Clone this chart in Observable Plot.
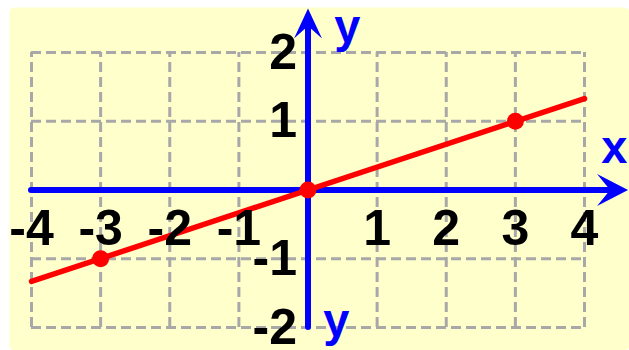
<!DOCTYPE html>
<html>
<head>
<meta charset="utf-8">
<script src="https://cdn.jsdelivr.net/npm/d3@7"></script>
<script src="https://cdn.jsdelivr.net/npm/@observablehq/plot@0.6"></script>
<style>
  html, body { margin: 0; padding: 0; background: #ffffff; }
  #chart svg { display: block; }
</style>
</head>
<body>
<div id="chart"></div>
<script>
// Grid / tick values
const xTicks = [-4, -3, -2, -1, 0, 1, 2, 3, 4];
const yTicks = [-2, -1, 0, 1, 2];
// Tick labels (0 omitted)
const xLabelValues = [-4, -3, -2, -1, 1, 2, 3, 4];
const xLabelTexts = ["-4", "-3", "-2", "-1", "1", "2", "3", "4"];
const yLabelValues = [-2, -1, 1, 2];
const yLabelTexts = ["-2", "-1", "1", "2"];
// Line y = x/3 endpoints
const lineX = [-4, 4];
const lineY = [-1.33, 1.33];
// Highlighted points
const pointX = [-3, 0, 3];
const pointY = [-1, 0, 1];
// Axis extents (arrow tips) and axis-name labels
const xAxisStart = -4, xAxisEnd = 4.45, xArrowTip = 4.63;
const yAxisStart = -2, yAxisEnd = 2.45, yArrowTip = 2.64;
const axisNames = ["x", "y", "y"];
const axisNameX = [4.43, 0.57, 0.41];
const axisNameY = [0.40, 2.16, -2.12];

const blue = "#0000ff";
const red = "#ff0000";
const gridColor = "#a8a8a8";
const font = "Liberation Sans, Arial, Helvetica, sans-serif";

const arrowHead = {
  draw(context, l, r) {
    context.moveTo(0, -l);
    context.lineTo(r, 0);
    context.lineTo(0, -l * 0.42);
    context.lineTo(-r, 0);
    context.closePath();
  }
};

const idx = (arr) => arr.map((_, i) => i);

const chart = Plot.plot({
  width: 629,
  height: 350,
  marginLeft: 31,
  marginRight: 45,
  marginTop: 52,
  marginBottom: 23,
  x: {domain: [-4, 4], axis: null},
  y: {domain: [-2, 2], axis: null},
  style: {background: "#ffffff", overflow: "visible"},
  marks: [
    Plot.frame({fill: "#ffffcc", stroke: "none", rx: 5,
      insetLeft: -22, insetTop: -45, insetRight: -45, insetBottom: -23}),
    Plot.ruleX(xTicks, {x: d => d, y1: -2, y2: 2, stroke: gridColor, strokeWidth: 3, strokeDasharray: "10,5"}),
    Plot.ruleY(yTicks, {y: d => d, x1: -4, x2: 4, stroke: gridColor, strokeWidth: 3, strokeDasharray: "10,5"}),
    Plot.ruleY([0], {x1: xAxisStart, x2: xAxisEnd, stroke: blue, strokeWidth: 6, strokeLinecap: "round"}),
    Plot.ruleX([0], {y1: yAxisStart, y2: yAxisEnd, stroke: blue, strokeWidth: 6, strokeLinecap: "round"}),
    Plot.vector([0], {x: xArrowTip, y: 0, rotate: 90, length: 31, r: 16, anchor: "end", shape: arrowHead, fill: blue, stroke: "none"}),
    Plot.vector([0], {x: 0, y: yArrowTip, rotate: 0, length: 30, r: 14, anchor: "end", shape: arrowHead, fill: blue, stroke: "none"}),
    Plot.line(idx(lineX), {x: i => lineX[i], y: i => lineY[i], stroke: red, strokeWidth: 5.5}),
    Plot.dot(idx(pointX), {x: i => pointX[i], y: i => pointY[i], r: 8.5, fill: red, stroke: "none"}),
    Plot.text(idx(xLabelValues), {x: i => xLabelValues[i], y: 0, text: i => xLabelTexts[i], dy: 55,
      lineAnchor: "bottom", textAnchor: "middle", fontSize: 50, fontWeight: "bold", fontFamily: font, fill: "#000"}),
    Plot.text(idx(yLabelValues), {x: 0, y: i => yLabelValues[i], text: i => yLabelTexts[i], dx: -11,
      lineAnchor: "middle", textAnchor: "end", fontSize: 50, fontWeight: "bold", fontFamily: font, fill: "#000"}),
    Plot.text(idx(axisNames), {x: i => axisNameX[i], y: i => axisNameY[i], text: i => axisNames[i],
      lineAnchor: "bottom", textAnchor: "middle", fontSize: 47, fontWeight: "bold", fontFamily: font, fill: blue})
  ]
});
document.getElementById("chart").appendChild(chart);
</script>
</body>
</html>
